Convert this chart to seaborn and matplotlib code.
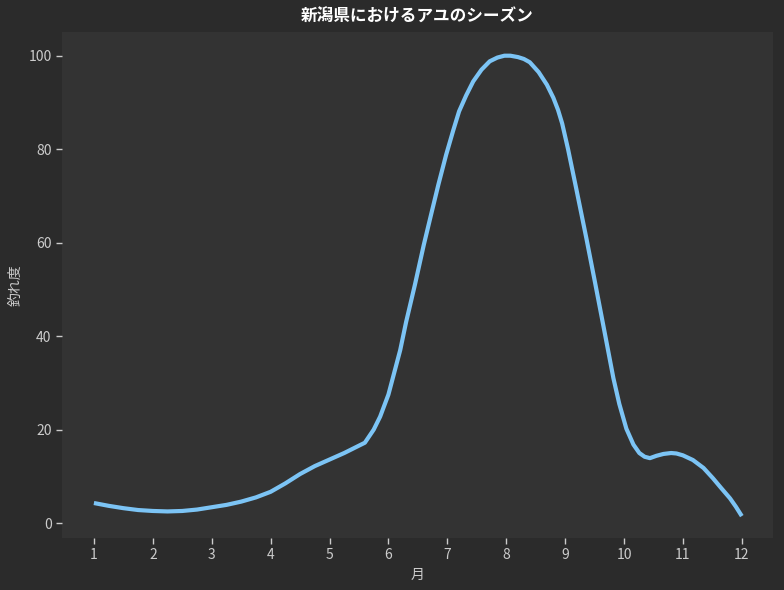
import numpy as np
import pandas as pd
import matplotlib
matplotlib.use("Agg")
import matplotlib.pyplot as plt
import seaborn as sns

# Values (month, catch score)
months = [1.0, 1.25, 1.5, 1.75, 2.0, 2.25, 2.5, 2.75, 3.0, 3.25, 3.5, 3.75,
          4.0, 4.25, 4.5, 4.75, 5.0, 5.25, 5.52, 5.6, 5.75, 5.86, 6.0, 6.08,
          6.2, 6.3, 6.45, 6.6, 6.73, 6.85, 6.98, 7.1, 7.2, 7.32, 7.44, 7.58,
          7.72, 7.85, 7.97, 8.07, 8.2, 8.3, 8.4, 8.55, 8.69, 8.8, 8.88, 8.95,
          9.05, 9.19, 9.36, 9.5, 9.65, 9.82, 9.92, 10.04, 10.16, 10.26, 10.35,
          10.44, 10.55, 10.67, 10.8, 10.89, 11.0, 11.17, 11.35, 11.51, 11.65,
          11.8, 11.9, 12.0]
scores = [4.3, 3.7, 3.2, 2.8, 2.6, 2.5, 2.6, 2.9, 3.4, 3.9, 4.6, 5.5,
          6.7, 8.5, 10.5, 12.2, 13.6, 15.0, 16.7, 17.2, 20.0, 22.8, 27.5, 31.3,
          37.0, 43.0, 51.0, 59.5, 66.3, 72.5, 78.8, 84.0, 88.1, 91.5, 94.5, 97.0,
          98.8, 99.6, 100.0, 100.0, 99.7, 99.3, 98.6, 96.5, 93.8, 91.0, 88.4, 85.5,
          80.0, 71.5, 61.0, 52.0, 42.2, 31.0, 25.5, 20.2, 16.8, 15.0, 14.2,
          13.9, 14.4, 14.8, 15.0, 14.9, 14.5, 13.5, 11.8, 9.6, 7.5,
          5.3, 3.5, 1.5]
tick_months = list(range(1, 13))

df = pd.DataFrame({"month": months, "score": scores})

sns.set_theme(style="dark", rc={
    "figure.facecolor": "#2b2b2b",
    "axes.facecolor": "#333333",
    "axes.edgecolor": "#333333",
    "text.color": "#ffffff",
    "axes.labelcolor": "#cccccc",
    "xtick.color": "#cccccc",
    "ytick.color": "#cccccc",
    "xtick.bottom": True,
    "ytick.left": True,
})
plt.rcParams["font.family"] = ["Noto Sans CJK JP", "DejaVu Sans"]

fig = plt.figure(figsize=(7.84, 5.90), dpi=100)
ax = fig.add_axes([0.079, 0.088, 0.907, 0.858])

sns.lineplot(data=df, x="month", y="score", ax=ax, color="#7cc4f5",
             linewidth=3.0, solid_capstyle="butt", solid_joinstyle="round")

ax.set_xlim(0.457, 12.53)
ax.set_ylim(-3.2, 105.1)
ax.set_xticks(tick_months)
ax.set_xticklabels([str(m) for m in tick_months])
ax.set_yticks([0, 20, 40, 60, 80, 100])
for s in ax.spines.values():
    s.set_visible(False)
ax.tick_params(axis="both", length=4, width=1, labelsize=10, colors="#cccccc")
ax.set_xlabel("月", fontsize=10, color="#cccccc")
ax.set_ylabel("釣れ度", fontsize=10, color="#cccccc")
ax.set_title("新潟県におけるアユのシーズン", fontsize=12, fontweight="bold",
             color="#ffffff", pad=7)
ax.grid(False)

fig.savefig("out.png", dpi=100, facecolor=fig.get_facecolor())
